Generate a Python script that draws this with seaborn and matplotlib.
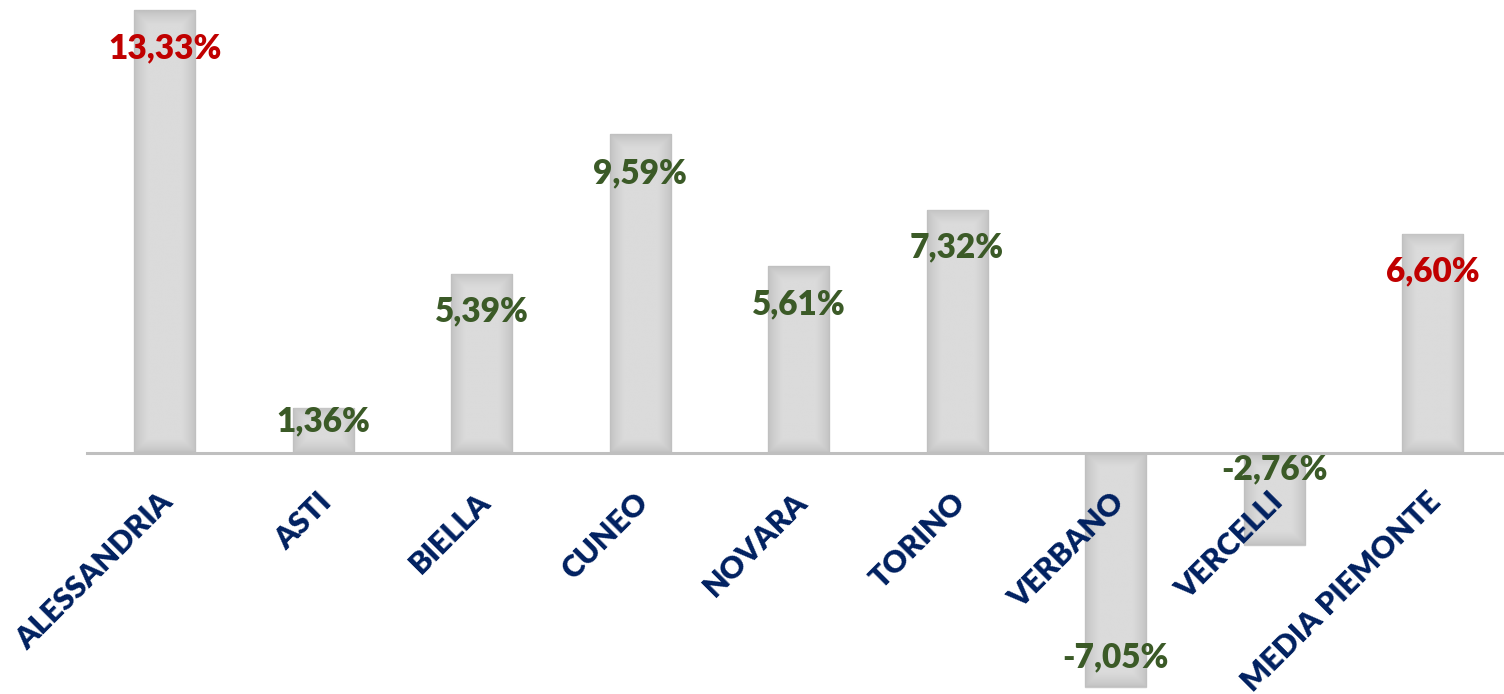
import matplotlib
matplotlib.use('Agg')
import matplotlib.pyplot as plt
import matplotlib.transforms as mtransforms
from matplotlib.colors import LinearSegmentedColormap
import seaborn as sns
import numpy as np
import pandas as pd

categories = ["ALESSANDRIA", "ASTI", "BIELLA", "CUNEO", "NOVARA",
              "TORINO", "VERBANO", "VERCELLI", "MEDIA PIEMONTE"]
values = [13.33, 1.36, 5.39, 9.59, 5.61, 7.32, -7.05, -2.76, 6.60]
value_labels = ["13,33%", "1,36%", "5,39%", "9,59%", "5,61%",
                "7,32%", "-7,05%", "-2,76%", "6,60%"]

RED = "#C00000"
GREEN = "#3B5A27"
label_colors = [RED, GREEN, GREEN, GREEN, GREEN, GREEN, GREEN, GREEN, RED]
# style: offset (pixels) of label baseline from bar end
label_dy = [-48, -24, -48, -49, -48, -48, 20, 65, -48]

sns.set_theme(style="white")
plt.rcParams['font.family'] = ['Lato', 'DejaVu Sans']

fig = plt.figure(figsize=(15.04, 6.94), dpi=100)
ax = fig.add_axes([87 / 1504, 0, 1 - 87 / 1504, 1])

df = pd.DataFrame({"cat": categories, "val": values})
sns.barplot(data=df, x="cat", y="val", color="#D3D3D3", saturation=1,
            width=0.385, edgecolor="#C8C8C8", linewidth=1.0, ax=ax)

# soft inner shading on bars
cmap = LinearSegmentedColormap.from_list("g", ["#C0C0C0", "#DBDBDB"])
ppx = 1417 / 8.94
ppy = 694 / 20.89
for p in list(ax.patches):
    x0, y0 = p.get_x(), p.get_y()
    w, h = p.get_width(), p.get_height()
    xa, xb = x0, x0 + w
    ya, yb = min(y0, y0 + h), max(y0, y0 + h)
    nx, ny = 64, 256
    xs = np.linspace(0, (xb - xa) * ppx, nx)
    ys = np.linspace(0, (yb - ya) * ppy, ny)
    dx = np.minimum(xs, xs[-1] - xs)
    dy = np.minimum(ys, ys[-1] - ys)
    d = np.minimum(dx[None, :], dy[:, None])
    arr = np.clip(d / 14.0, 0, 1) ** 0.7
    im = ax.imshow(arr, cmap=cmap, vmin=0, vmax=1, extent=(xa, xb, ya, yb),
                   aspect='auto', interpolation='bilinear', zorder=1.2,
                   origin='lower')
    im.set_clip_path(p)

ax.set_xlim(-0.49, 8.45)
ax.set_ylim(-7.26, 13.63)

for s in ["top", "right", "left"]:
    ax.spines[s].set_visible(False)
ax.spines["bottom"].set_position(("data", 0))
ax.spines["bottom"].set_color("#BFBFBF")
ax.spines["bottom"].set_linewidth(2.2)
ax.spines["bottom"].set_zorder(2.5)

ax.set_yticks([])
ax.set_xlabel("")
ax.set_ylabel("")
ax.set_xticks(range(len(categories)))
ax.set_xticklabels(categories, rotation=45, ha="right", rotation_mode="anchor",
                   color="#002060", fontweight="heavy", fontsize=22)
ax.tick_params(axis="x", length=0, pad=25)
ax.xaxis.set_zorder(4)
shift = mtransforms.ScaledTranslation(-6 / 100, 0, fig.dpi_scale_trans)
for t in ax.get_xticklabels():
    t.set_transform(t.get_transform() + shift)

for i, (v, lbl, c, dyp) in enumerate(zip(values, value_labels, label_colors, label_dy)):
    ax.annotate(lbl, xy=(i, v), xytext=(0, dyp), textcoords="offset pixels",
                ha="center", va="baseline", fontsize=24, fontweight="heavy",
                color=c, zorder=5)

fig.savefig("out.png", dpi=100)
